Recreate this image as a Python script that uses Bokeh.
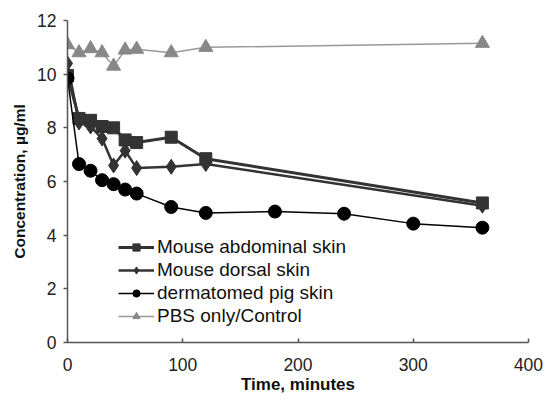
from bokeh.plotting import figure
from bokeh.models import Range1d, Legend, LegendItem, FixedTicker
from bokeh.embed import file_html
from bokeh.resources import INLINE

t_ctrl = [0, 10, 20, 30, 40, 50, 60, 90, 120, 360]
c_ctrl = [11.1, 10.8, 10.95, 10.8, 10.3, 10.9, 10.93, 10.8, 11.0, 11.15]

t_abd = [0, 10, 20, 30, 40, 50, 60, 90, 120, 360]
c_abd = [9.95, 8.35, 8.28, 8.05, 8.0, 7.55, 7.45, 7.65, 6.85, 5.2]

t_dor = [0, 10, 20, 30, 40, 50, 60, 90, 120, 360]
c_dor = [10.4, 8.2, 8.05, 7.6, 6.6, 7.15, 6.5, 6.55, 6.65, 5.1]

t_pig = [0, 10, 20, 30, 40, 50, 60, 90, 120, 180, 240, 300, 360]
c_pig = [9.85, 6.65, 6.4, 6.05, 5.9, 5.7, 5.55, 5.05, 4.83, 4.88, 4.8, 4.43, 4.28]

labels = ["Mouse abdominal skin", "Mouse dorsal skin", "dermatomed pig skin", "PBS only/Control"]

p = figure(width=547, height=401, output_backend="svg", toolbar_location=None,
           x_range=Range1d(0, 400), y_range=Range1d(0, 12),
           min_border_left=67, min_border_right=19, min_border_top=20, min_border_bottom=59)
p.outline_line_color = None
p.xgrid.visible = False
p.ygrid.visible = False

FONT = "Liberation Sans"
for ax in (p.xaxis[0], p.yaxis[0]):
    ax.axis_line_color = "#555555"
    ax.axis_line_width = 1.5
    ax.major_tick_line_color = "#555555"
    ax.major_tick_line_width = 1.5
    ax.minor_tick_line_color = None
    ax.major_label_text_font = FONT
    ax.major_label_text_font_size = "17.5px"
    ax.major_label_text_color = "#222222"
    ax.axis_label_text_font = FONT
    ax.axis_label_text_font_style = "bold"
    ax.axis_label_text_color = "#111111"

p.xaxis.axis_label_text_font_size = "17px"
p.yaxis.axis_label_text_font_size = "15.5px"
p.xaxis.ticker = FixedTicker(ticks=[0, 100, 200, 300, 400])
p.yaxis.ticker = FixedTicker(ticks=[0, 2, 4, 6, 8, 10, 12])
p.xaxis.major_tick_in = 4
p.xaxis.major_tick_out = 0
p.yaxis.major_tick_in = 0
p.yaxis.major_tick_out = 4
p.xaxis.major_label_standoff = 15
p.yaxis.major_label_standoff = 7
p.xaxis.axis_label = "Time, minutes"
p.yaxis.axis_label = "Concentration, µg/ml"
p.xaxis.axis_label_standoff = 1
p.yaxis.axis_label_standoff = 6

series = [
    (t_abd, c_abd, "square", 12, "#333333", "#333333", 3),
    (t_dor, c_dor, "diamond", 15, "#333333", "#333333", 2.5),
    (t_pig, c_pig, "circle", 13, "#000000", "#000000", 1.5),
    (t_ctrl, c_ctrl, "triangle", 14, "#888888", "#999999", 1.5),
]
items = []
for (tx, cy, mk, sz, mc, lc, lw), lab in zip(series, labels):
    l = p.line(tx, cy, line_color=lc, line_width=lw)
    s = p.scatter(tx, cy, marker=mk, size=sz, fill_color=mc, line_color=mc)
    items.append(LegendItem(label=lab, renderers=[l, s]))

leg = Legend(items=items, location=(51, 15), background_fill_alpha=0,
             border_line_color=None, label_text_font=FONT, label_text_font_size="19px",
             label_text_color="#111111", glyph_width=36, glyph_height=18,
             spacing=1, padding=0, margin=0, label_standoff=3, label_height=18,
             label_text_line_height=1.0)
p.add_layout(leg, "center")

open("out.html", "w").write(file_html(p, INLINE))
